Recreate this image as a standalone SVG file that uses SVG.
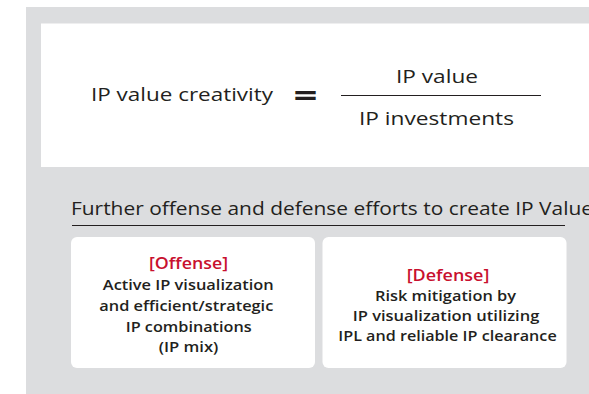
<svg xmlns="http://www.w3.org/2000/svg" width="589" height="394" viewBox="0 0 589 394">
<style>
.t{font-family:"Open Sans","Noto Sans",sans-serif;fill:#231f20}
.h{font-size:19px;font-weight:500}
.m{text-anchor:middle}
.b{font-size:14px;font-weight:600;text-anchor:middle}
.r{fill:#c8102e;font-size:15.5px;font-weight:600;text-anchor:middle}
.card{fill:#ffffff}
</style>
<rect x="0" y="0" width="589" height="394" fill="#ffffff"/>
<rect id="background" x="26" y="7" width="563" height="387" fill="#dcdddf"/>
<g id="formula">
<rect x="41" y="23.5" width="548" height="143.5" fill="#ffffff"/>
<text class="t h" x="91" y="101" textLength="182" lengthAdjust="spacingAndGlyphs">IP value creativity</text>
<text class="t" x="293.5" y="106" font-size="30" font-weight="700" textLength="24" lengthAdjust="spacingAndGlyphs">=</text>
<line x1="341" y1="95.5" x2="541" y2="95.5" stroke="#231f20" stroke-width="1"/>
<text class="t h m" x="437" y="83" textLength="82" lengthAdjust="spacingAndGlyphs">IP value</text>
<text class="t h m" x="436.5" y="125" textLength="155" lengthAdjust="spacingAndGlyphs">IP investments</text>
</g>
<g id="heading">
<text class="t" x="71" y="215" font-size="18.5" textLength="522" lengthAdjust="spacingAndGlyphs">Further offense and defense efforts to create IP Value</text>
<line x1="72" y1="225.5" x2="565" y2="225.5" stroke="#231f20" stroke-width="1"/>
</g>
<g id="offense">
<rect class="card" x="71" y="237" width="244" height="131" rx="6"/>
<text class="t r" x="188.5" y="269" textLength="79" lengthAdjust="spacingAndGlyphs">[Offense]</text>
<text class="t b" x="188.3" y="290" textLength="171" lengthAdjust="spacingAndGlyphs">Active IP visualization</text>
<text class="t b" x="186.3" y="311" textLength="174" lengthAdjust="spacingAndGlyphs">and efficient/strategic</text>
<text class="t b" x="188.7" y="332" textLength="126" lengthAdjust="spacingAndGlyphs">IP combinations</text>
<text class="t b" x="188.5" y="352" textLength="59.6" lengthAdjust="spacingAndGlyphs">(IP mix)</text>
</g>
<g id="defense">
<rect class="card" x="322.5" y="237" width="244" height="131" rx="6"/>
<text class="t r" x="448" y="280.5" textLength="82.6" lengthAdjust="spacingAndGlyphs">[Defense]</text>
<text class="t b" x="445.5" y="300.5" textLength="141" lengthAdjust="spacingAndGlyphs">Risk mitigation by</text>
<text class="t b" x="446" y="320.5" textLength="186.6" lengthAdjust="spacingAndGlyphs">IP visualization utilizing</text>
<text class="t b" x="447.5" y="341" textLength="218.4" lengthAdjust="spacingAndGlyphs">IPL and reliable IP clearance</text>
</g>
<g id="connectors"></g>
</svg>
